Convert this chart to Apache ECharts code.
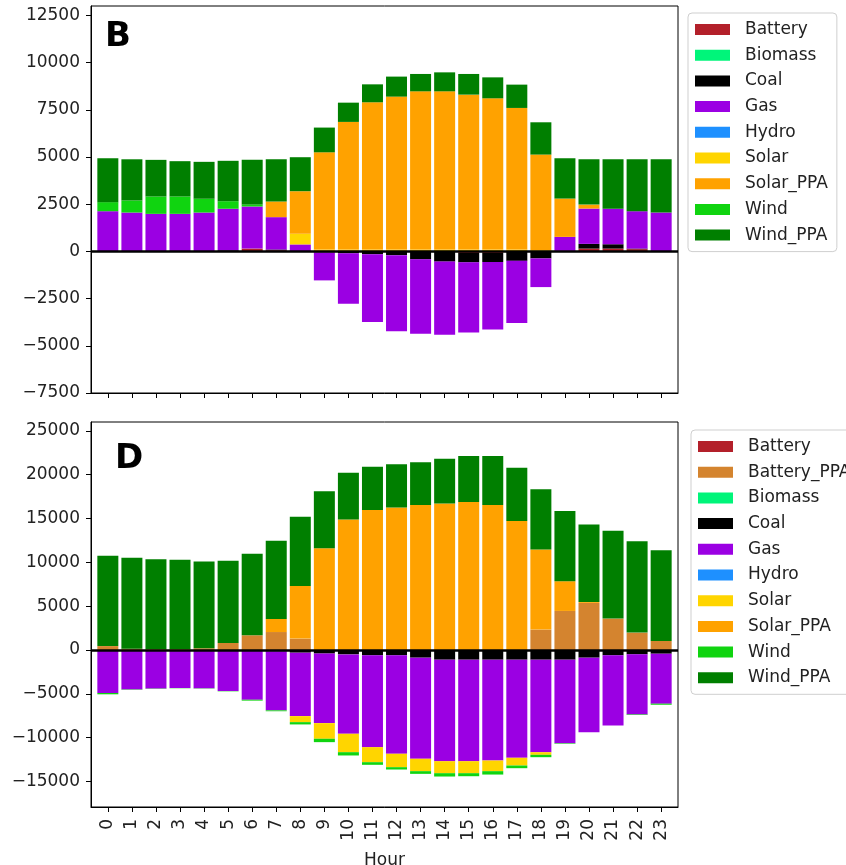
<!DOCTYPE html>
<html>
<head>
<meta charset="utf-8">
<script src="https://cdn.jsdelivr.net/npm/echarts@6/dist/echarts.min.js"></script>
<style>
	html, body { margin: 0; padding: 0; background: #fff; }
	#chart { width: 846px; height: 865px; }
</style>
</head>
<body>
<div id="chart"></div>
<script>
// hours on x
var hours = [0, 1, 2, 3, 4, 5, 6, 7, 8, 9, 10, 11, 12, 13, 14, 15, 16, 17, 18, 19, 20, 21, 22, 23];
var yTicksB = [-7500, -5000, -2500, 0, 2500, 5000, 7500, 10000, 12500];
var yTicksD = [-15000, -10000, -5000, 0, 5000, 10000, 15000, 20000, 25000];

var namesB = ["Battery", "Biomass", "Coal", "Gas", "Hydro", "Solar", "Solar_PPA", "Wind", "Wind_PPA"];
var namesD = ["Battery", "Battery_PPA", "Biomass", "Coal", "Gas", "Hydro", "Solar", "Solar_PPA", "Wind", "Wind_PPA"];

// panel B
var batteryB  = [0, 0, 0, 0, 0, 0, 150, 60, 0, 0, 0, 0, 0, 0, 0, -80, -80, 0, 0, 30, 150, 150, 120, 0];
var biomassB  = [0, 0, 0, 0, 0, 0, 0, 0, 0, 0, 0, 0, 0, 0, 0, 0, 0, 0, 0, 0, 0, 0, 0, 0];
var coalB     = [0, 0, 0, 0, 0, 60, 0, 40, 0, -50, -100, -150, -200, -420, -540, -500, -480, -500, -370, 0, 250, 230, 30, 0];
var gasB      = [2130, 2060, 1990, 1990, 2060, 2200, 2230, 1715, 370, -1485, -2670, -3590, -4030, -3935, -3870, -3720, -3580, -3290, -1520, 740, 1870, 1880, 1980, 2060];
var hydroB    = [0, 0, 0, 0, 0, 0, 0, 0, 0, 0, 0, 0, 0, 0, 0, 0, 0, 0, 0, 0, 0, 0, 0, 0];
var solarB    = [0, 0, 0, 0, 0, 0, 0, 0, 565, 100, 100, 100, 100, 100, 100, 100, 100, 100, 60, 0, 0, 0, 0, 0];
var solarPpaB = [0, 0, 0, 0, 0, 0, 0, 830, 2255, 5150, 6760, 7800, 8100, 8380, 8380, 8205, 8010, 7500, 5070, 2030, 210, 0, 0, 0];
var windB     = [480, 640, 920, 920, 730, 400, 110, 0, 0, 0, 0, 0, 0, 0, 0, 0, 0, 0, 0, 0, 0, 0, 0, 0];
var windPpaB  = [2325, 2180, 1940, 1870, 1955, 2140, 2360, 2235, 1800, 1310, 1020, 950, 1060, 920, 1005, 1095, 1110, 1235, 1710, 2135, 2400, 2620, 2750, 2820];

// panel D
var batteryD    = [0, 0, 0, 0, 0, 0, 0, 0, 0, 0, 0, 0, 0, 0, 0, 0, 0, 0, 0, 0, 0, 0, 0, 0];
var batteryPpaD = [450, 150, 100, 100, 200, 800, 1680, 2050, 1300, 0, 0, 0, 0, 0, 0, 0, 0, 0, 2330, 4455, 5370, 3585, 1985, 1030];
var biomassD    = [0, 0, 0, 0, 0, 0, 0, 0, 0, 0, 0, 0, 0, 0, 0, 0, 0, 0, 0, 0, 0, 0, 0, 0];
var coalD       = [0, 0, 0, 0, 0, 0, -50, -150, -300, -400, -500, -600, -600, -870, -1100, -1100, -1100, -1100, -1100, -1100, -870, -600, -490, -420];
var gasD        = [-4900, -4500, -4400, -4330, -4370, -4670, -5620, -6730, -7235, -7935, -9050, -10475, -11230, -11530, -11575, -11575, -11500, -11190, -10550, -9520, -8495, -8000, -6855, -5700];
var hydroD      = [0, 0, 0, 0, 0, 0, 0, 0, 0, 0, 0, 0, 0, 0, 0, 0, 0, 0, 0, 0, 0, 0, 0, 0];
var solarD      = [0, 0, 0, 0, 0, 0, 0, 0, -690, -1785, -2100, -1715, -1530, -1415, -1370, -1370, -1215, -880, -300, 0, 0, 0, 0, 0];
var solarPpaD   = [0, 0, 0, 0, 0, 0, 0, 1490, 6010, 11615, 14890, 15955, 16260, 16525, 16720, 16870, 16525, 14700, 9135, 3390, 100, 0, 0, 0];
var windD       = [-150, -40, -30, -30, -30, -40, -100, -100, -260, -385, -375, -300, -265, -305, -380, -345, -385, -305, -270, -60, 0, 0, -60, -120];
var windPpaD    = [10285, 10360, 10260, 10180, 9890, 9365, 9285, 8910, 7880, 6475, 5325, 4945, 4910, 4875, 5095, 5250, 5595, 6090, 6855, 7995, 8850, 10005, 10425, 10355];

var colors = {
	Battery: "#b3202a",
	Battery_PPA: "#d4842f",
	Biomass: "#00f57a",
	Coal: "#000000",
	Gas: "#9b00e3",
	Hydro: "#1e90ff",
	Solar: "#ffd500",
	Solar_PPA: "#ffa200",
	Wind: "#10d410",
	Wind_PPA: "#007f00"
};

var valuesB = [batteryB, biomassB, coalB, gasB, hydroB, solarB, solarPpaB, windB, windPpaB];
var valuesD = [batteryD, batteryPpaD, biomassD, coalD, gasD, hydroD, solarD, solarPpaD, windD, windPpaD];

var font = "DejaVu Sans";

function minusSign(v) {
	return String(v).replace("-", "\u2212");
}

function makeSeries(names, values, idx) {
	var list = [];
	for (var i = 0; i < names.length; i++) {
		var s = {
			name: names[i],
			type: "bar",
			stack: "p" + idx,
			xAxisIndex: idx,
			yAxisIndex: idx,
			barWidth: 21,
			// value first so the stack works on y
			encode: { x: 1, y: 0 },
			itemStyle: { color: colors[names[i]] },
			data: hours.map(function (h, j) { return [values[i][j], h]; })
		};
		if (i == names.length - 1) {
			s.markLine = {
				silent: true,
				symbol: ["none", "none"],
				label: { show: false },
				lineStyle: { color: "#000", width: 2.5, type: "solid" },
				data: [{ yAxis: 0 }]
			};
		}
		list.push(s);
	}
	return list;
}

function xAxisOf(idx, showLabels) {
	return {
		type: "value",
		gridIndex: idx,
		min: -0.7,
		max: 23.7,
		name: showLabels ? "Hour" : "",
		nameLocation: "middle",
		nameGap: 45,
		nameTextStyle: { color: "#222", fontFamily: font, fontSize: 17 },
		splitLine: { show: false },
		axisLine: { onZero: false, lineStyle: { color: "#000", width: 1 } },
		axisTick: { show: true, length: 5, customValues: hours, lineStyle: { color: "#000" } },
		axisLabel: {
			show: showLabels,
			customValues: hours,
			rotate: 90,
			margin: 12,
			color: "#222",
			fontFamily: font,
			fontSize: 17
		}
	};
}

function yAxisOf(idx, min, max, ticks) {
	return {
		type: "value",
		gridIndex: idx,
		min: min,
		max: max,
		splitLine: { show: false },
		axisLine: { onZero: false, lineStyle: { color: "#000", width: 1 } },
		axisTick: { show: true, length: 5, customValues: ticks, lineStyle: { color: "#000" } },
		axisLabel: {
			customValues: ticks,
			formatter: minusSign,
			margin: 11,
			color: "#222",
			fontFamily: font,
			fontSize: 17
		}
	};
}

function legendOf(names, top, left) {
	return {
		orient: "vertical",
		left: left,
		top: top,
		data: names,
		icon: "rect",
		itemWidth: 35,
		itemHeight: 11,
		itemGap: 8.7,
		padding: [8, 9, 8, 7],
		backgroundColor: "#fff",
		borderColor: "#cfcfcf",
		borderWidth: 1,
		borderRadius: 4,
		selectedMode: false,
		textStyle: {
			color: "#222",
			fontFamily: font,
			fontSize: 17,
			lineHeight: 17,
			padding: [0, 0, 0, 10]
		}
	};
}

var myChart = echarts.init(document.getElementById("chart"));
var option = {
	animation: false,
	backgroundColor: "#fff",
	title: [
		{ text: "B", left: 105, top: 20, padding: 0, textStyle: { fontFamily: font, fontSize: 34, fontWeight: "bold", color: "#000" } },
		{ text: "D", left: 115, top: 442, padding: 0, textStyle: { fontFamily: font, fontSize: 34, fontWeight: "bold", color: "#000" } }
	],
	grid: [
		{ left: 91, top: 6, width: 587, height: 387, outerBoundsMode: "none", show: true, borderColor: "#000", borderWidth: 1, backgroundColor: "transparent" },
		{ left: 91, top: 422, width: 587, height: 385, outerBoundsMode: "none", show: true, borderColor: "#000", borderWidth: 1, backgroundColor: "transparent" }
	],
	legend: [legendOf(namesB, 13, 688), legendOf(namesD, 430, 691)],
	xAxis: [xAxisOf(0, false), xAxisOf(1, true)],
	yAxis: [yAxisOf(0, -7500, 13000, yTicksB), yAxisOf(1, -17900, 26000, yTicksD)],
	series: makeSeries(namesB, valuesB, 0).concat(makeSeries(namesD, valuesD, 1))
};
myChart.setOption(option);
</script>
</body>
</html>
